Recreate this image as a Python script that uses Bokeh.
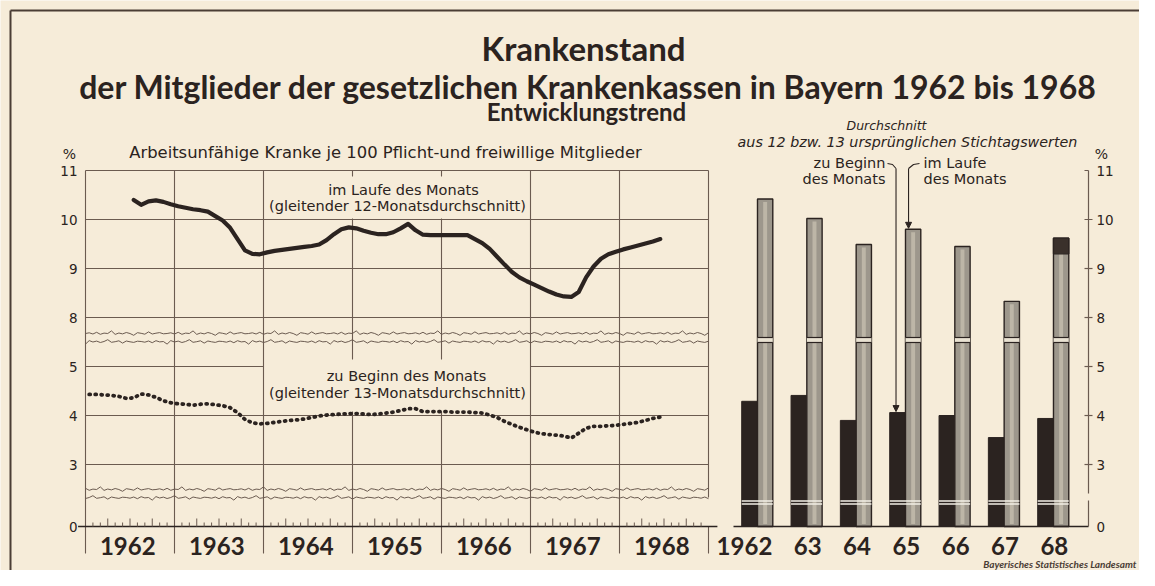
import math
from bokeh.plotting import figure
from bokeh.models import Range1d, ColumnDataSource, Label, Arrow, NormalHead
from bokeh.core.properties import value
from bokeh.embed import file_html
from bokeh.resources import INLINE

# ---------------- data ----------------
years = [1962, 1963, 1964, 1965, 1966, 1967, 1968]
year_labels = ["1962", "1963", "1964", "1965", "1966", "1967", "1968"]
bar_year_labels = ["1962", "63", "64", "65", "66", "67", "68"]

# Arbeitsunfähige im Laufe des Monats, gleitender 12-Monatsdurchschnitt (Jul 1962 - Jun 1968)
laufe_first_month = 6
laufe_ma12 = [
    10.40, 10.30, 10.37, 10.39, 10.36, 10.31,
    10.27, 10.24, 10.21, 10.19, 10.16, 10.07, 9.98, 9.83, 9.60, 9.37, 9.30, 9.29,
    9.33, 9.36, 9.38, 9.40, 9.42, 9.44, 9.46, 9.49, 9.58, 9.70, 9.80, 9.84,
    9.82, 9.77, 9.73, 9.70, 9.70, 9.74, 9.82, 9.91, 9.78, 9.69, 9.68, 9.68,
    9.68, 9.68, 9.68, 9.68, 9.60, 9.52, 9.40, 9.24, 9.08, 8.93, 8.82, 8.74,
    8.67, 8.60, 8.53, 8.47, 8.43, 8.42, 8.52, 8.82, 9.04, 9.20, 9.29, 9.34,
    9.39, 9.43, 9.47, 9.51, 9.55, 9.60,
]

# Arbeitsunfähige zu Beginn des Monats, gleitender 13-Monatsdurchschnitt (Jan 1962 - Jun 1968)
beginn_first_month = 0
beginn_ma13 = [
    4.43, 4.43, 4.42, 4.41, 4.39, 4.35, 4.36, 4.44, 4.42, 4.37, 4.30, 4.26,
    4.24, 4.23, 4.21, 4.23, 4.24, 4.22, 4.20, 4.16, 4.06, 3.92, 3.85, 3.83,
    3.84, 3.86, 3.88, 3.90, 3.91, 3.93, 3.96, 3.99, 4.01, 4.02, 4.03, 4.04,
    4.04, 4.03, 4.02, 4.03, 4.05, 4.07, 4.10, 4.14, 4.14, 4.08, 4.08, 4.08,
    4.08, 4.07, 4.07, 4.07, 4.06, 4.05, 4.01, 3.96, 3.88, 3.82, 3.76, 3.71,
    3.66, 3.63, 3.61, 3.60, 3.58, 3.54, 3.64, 3.74, 3.78, 3.78, 3.79, 3.80,
    3.82, 3.84, 3.86, 3.90, 3.94, 3.97,
]

# Jahresdurchschnitte aus 12 bzw. 13 ursprünglichen Stichtagswerten
bar_beginn = [4.29, 4.41, 3.90, 4.06, 4.00, 3.55, 3.94]
bar_laufe = [10.42, 10.02, 9.49, 9.80, 9.45, 8.33, 9.62]
bar_laufe_dark_from = [None, None, None, None, None, None, 9.30]

tick_values = [0, 3, 4, 5, 8, 9, 10, 11]
tick_labels = ["0", "3", "4", "5", "8", "9", "10", "11"]

# ---------------- layout / style ----------------
BG = "#f6ecd9"
INK = "#2b2320"
GRID = "#6b5b50"
FONT = "Lato"
SANS = "DejaVu Sans"

OFF = 0
FIG_W, FIG_H = 1139, 570
PAGE_L, PAGE_R, PAGE_T, PAGE_B = OFF, OFF + FIG_W, OFF, OFF + FIG_H

# broken value axis: upper panel (8..11) shifted down by 2 units
ZERO_D = 1.735
PX_PER_UNIT = 49.0
ZERO_Y = 526.0


def disp(v):
    if v >= 6.5:
        return v - 2.0
    if v >= 2.0:
        return v
    return ZERO_D + v * (2.0 - ZERO_D) / 2.0


def page_y(d):
    return ZERO_Y - (d - ZERO_D) * PX_PER_UNIT


MONTH0_X = 85.0
PX_PER_MONTH = 623.0 / 84.0
BAR0_X = 757.0
PX_PER_BAR = 49.33

p = figure(width=FIG_W, height=FIG_H,
           x_range=Range1d(PAGE_L, PAGE_R), y_range=Range1d(PAGE_B, PAGE_T),
           output_backend="svg", toolbar_location=None, min_border=0,
           x_axis_location=None, y_axis_location=None,
           background_fill_color=BG, border_fill_color=BG, outline_line_color=None)
p.xgrid.visible = False
p.ygrid.visible = False
p.extra_x_ranges = {
    "m": Range1d((PAGE_L - MONTH0_X) / PX_PER_MONTH, (PAGE_R - MONTH0_X) / PX_PER_MONTH),
    "b": Range1d((PAGE_L - BAR0_X) / PX_PER_BAR, (PAGE_R - BAR0_X) / PX_PER_BAR),
}
p.extra_y_ranges = {
    "v": Range1d(ZERO_D - (PAGE_B - ZERO_Y) / PX_PER_UNIT, ZERO_D + (ZERO_Y - PAGE_T) / PX_PER_UNIT),
}


def txt(x, y, s, size, align="center", style="normal", color=INK, xr="default", yr="default",
        font=SANS):
    p.add_layout(Label(x=x, y=y, text=s, text_font=font, text_font_size=f"{size}px",
                       text_font_style=style, text_align=align, text_baseline="middle",
                       text_color=color, x_range_name=xr, y_range_name=yr))


# outer frame
p.line([10, 10], [10, PAGE_B], line_color="#4a3d35", line_width=2)
p.line([10, PAGE_R], [10, 10], line_color="#4a3d35", line_width=2)

# ---------------- titles ----------------
txt(583, 47, "Krankenstand", 33, style="bold", font=FONT)
txt(588, 86, "der Mitglieder der gesetzlichen Krankenkassen in Bayern 1962 bis 1968", 32,
    style="bold", font=FONT)
txt(586, 111, "Entwicklungstrend", 24, style="bold", font=FONT)
txt(385, 152, "Arbeitsunfähige Kranke je 100 Pflicht-und freiwillige Mitglieder", 16.4)

# ---------------- left chart: grid ----------------
n_months = 12 * len(years)
for v in [8, 9, 10, 11, 3, 4]:
    p.segment(x0=[0], x1=[n_months], y0=[disp(v)], y1=[disp(v)], x_range_name="m",
              y_range_name="v", line_color=GRID, line_width=1.1)
p.segment(x0=[0, 60], x1=[24, n_months], y0=[disp(5)] * 2, y1=[disp(5)] * 2, x_range_name="m",
          y_range_name="v", line_color=GRID, line_width=1.1)

top_y = page_y(disp(11))
for k in range(len(years) + 1):
    mx = 12 * k
    if k in (3, 4):
        pieces = [(top_y, 176), (218, 359), (411, ZERO_Y)]
    elif k == len(years):
        pieces = [(top_y, 497)]
    else:
        pieces = [(top_y, ZERO_Y)]
    for a, b in pieces:
        p.line([mx, mx], [a, b], x_range_name="m", line_color=GRID, line_width=1.1)
    # separators below the time axis
    p.line([mx, mx], [ZERO_Y, 553], x_range_name="m", line_color=GRID, line_width=1.1)

# time axis with month ticks
p.line([-1.0, n_months + 1.2], [ZERO_Y, ZERO_Y], x_range_name="m", line_color=INK, line_width=1.6)
tick_x, tick_y0, tick_y1 = [], [], []
for mth in range(n_months):
    if mth % 12 == 0:
        continue
    tick_x.append(mth)
    tick_y0.append(ZERO_Y)
    tick_y1.append(ZERO_Y - (8 if mth % 3 == 0 else 4))
p.segment(x0=tick_x, x1=tick_x, y0=tick_y0, y1=tick_y1, x_range_name="m", line_color=GRID,
          line_width=1)

# axis-break wavy lines (decorative break symbols)
JAG = [0, 0.7, -0.5, 1.2, -0.8, 0.4, 0, 2.6, -0.9, 0.5, -0.4, 1.0, 0, -1.8, 0.8, 0.2, -0.7, 1.6,
       -0.5, 0.3, 0.9, -0.3]
for base, sign, phase in [(333, -1, 0), (341, 1, 7), (489, -1, 3), (497, 1, 11)]:
    xs, ys = [], []
    for j in range(2 * n_months + 1):
        xs.append(j * 0.5)
        ys.append(base + sign * JAG[(j + phase) % len(JAG)])
    p.line(xs, ys, x_range_name="m", line_color=GRID, line_width=1)

# y tick labels (left)
for v, lab in zip(tick_values, tick_labels):
    txt(77, disp(v), lab, 13.5, align="right", yr="v")
txt(69, 153, "%", 14)

# ---------------- left chart: series ----------------
src_laufe = ColumnDataSource(dict(
    m=[laufe_first_month + i + 0.5 for i in range(len(laufe_ma12))],
    d=[disp(v) for v in laufe_ma12]))
p.line("m", "d", source=src_laufe, x_range_name="m", y_range_name="v", line_color=INK,
       line_width=4.2, line_join="round", line_cap="round")

src_beginn = ColumnDataSource(dict(
    m=[beginn_first_month + i + 0.5 for i in range(len(beginn_ma13))],
    d=[disp(v) for v in beginn_ma13]))
p.line("m", "d", source=src_beginn, x_range_name="m", y_range_name="v", line_color=INK,
       line_width=3.8, line_dash="1 5", line_cap="round")

txt(403, 189, "im Laufe des Monats", 14.5)
txt(397, 205, "(gleitender 12-Monatsdurchschnitt)", 14.5)
txt(406, 375, "zu Beginn des Monats", 14.5)
txt(397, 392, "(gleitender 13-Monatsdurchschnitt)", 14.5)

for i, lab in enumerate(year_labels):
    txt(12 * i + 5.7, 545, lab, 24, style="bold", xr="m", font=FONT)

# ---------------- right chart: bars ----------------
idx = list(range(len(years)))
W_BLACK, W_GREY = 0.32, 0.31
p.vbar(x=[i - W_BLACK / 2 for i in idx], width=W_BLACK, bottom=ZERO_D,
       top=[disp(v) for v in bar_beginn], x_range_name="b", y_range_name="v",
       fill_color=INK, line_color=INK, line_width=1)
p.vbar(x=[i + W_GREY / 2 for i in idx], width=W_GREY, bottom=ZERO_D,
       top=[disp(v) for v in bar_laufe], x_range_name="b", y_range_name="v",
       fill_color="#9d978c", line_color=INK, line_width=1.4)
p.vbar(x=[i + W_GREY / 2 for i in idx], width=0.08, bottom=ZERO_D + 0.05,
       top=[disp(v) - 0.06 for v in bar_laufe], x_range_name="b", y_range_name="v",
       fill_color="#bdb6a7", line_color=None)
dark_i = [i for i in idx if bar_laufe_dark_from[i] is not None]
p.vbar(x=[i + W_GREY / 2 for i in dark_i], width=W_GREY,
       bottom=[disp(bar_laufe_dark_from[i]) for i in dark_i],
       top=[disp(bar_laufe[i]) for i in dark_i], x_range_name="b", y_range_name="v",
       fill_color="#3a302b", line_color=INK, line_width=1.3)

# breaks through the bars
p.quad(left=[i for i in idx], right=[i + W_GREY for i in idx], top=[337] * 7, bottom=[342] * 7,
       x_range_name="b", fill_color="#e9e2d2", line_color=None)
p.segment(x0=idx + idx, x1=[i + W_GREY for i in idx] * 2, y0=[337] * 7 + [342] * 7,
          y1=[337] * 7 + [342] * 7, x_range_name="b", line_color=INK, line_width=1.2)
p.segment(x0=[i - W_BLACK for i in idx] * 2, x1=[i + W_GREY for i in idx] * 2,
          y0=[500.5] * 7 + [503.5] * 7, y1=[500.5] * 7 + [503.5] * 7, x_range_name="b",
          line_color="#f3efe6", line_width=1.5)

# baseline and right value axis
p.line([733, 1088], [ZERO_Y, ZERO_Y], line_color=INK, line_width=1.6)
AX_X = 1088
p.line([AX_X, AX_X], [top_y, 493], line_color=GRID, line_width=1.2)
p.line([AX_X, AX_X], [500, ZERO_Y], line_color=GRID, line_width=1.2)
for v, lab in zip(tick_values, tick_labels):
    yy = page_y(disp(v))
    if 0 < v < 11:
        p.line([AX_X - 4, AX_X + 4], [yy, yy], line_color=GRID, line_width=1.2)
    elif v == 11:
        p.line([AX_X - 4, AX_X], [yy, yy], line_color=GRID, line_width=1.2)
    txt(AX_X + 8, yy, lab, 13.5, align="left")
txt(1101, 153, "%", 14)

for i, lab in enumerate(bar_year_labels):
    txt(i + 0.3, 545, lab, 24, style="bold", align="right", xr="b", font=FONT)

# annotation for the bars
txt(886, 125, "Durchschnitt", 12.5, style="italic")
txt(907, 141, "aus 12 bzw. 13 ursprünglichen Stichtagswerten", 14.3, style="italic")
txt(885, 162, "zu Beginn", 14.5, align="right")
txt(885, 178, "des Monats", 14.5, align="right")
txt(923, 162, "im Laufe", 14.5, align="left")
txt(923, 178, "des Monats", 14.5, align="left")

x_black_65 = BAR0_X + (3 - W_BLACK * 0.6) * PX_PER_BAR
x_grey_65 = BAR0_X + (3 + W_GREY * 0.2) * PX_PER_BAR
p.line([887, 892, x_black_65], [163, 164, 168], line_color=INK, line_width=1.1)
p.line([919, 913, x_grey_65], [163, 164, 168], line_color=INK, line_width=1.1)
p.add_layout(Arrow(end=NormalHead(size=6, fill_color=INK, line_color=INK),
                   x_start=x_black_65, y_start=168, x_end=x_black_65,
                   y_end=page_y(disp(bar_beginn[3])) - 1, line_color=INK, line_width=1.1))
p.add_layout(Arrow(end=NormalHead(size=6, fill_color=INK, line_color=INK),
                   x_start=x_grey_65, y_start=168, x_end=x_grey_65,
                   y_end=page_y(disp(bar_laufe[3])) - 1, line_color=INK, line_width=1.1))

txt(1136, 563, "Bayerisches Statistisches Landesamt", 10, style="bold italic", align="right",
    color="#4a3d35", font=FONT)

open("out.html", "w").write(file_html(p, INLINE))
